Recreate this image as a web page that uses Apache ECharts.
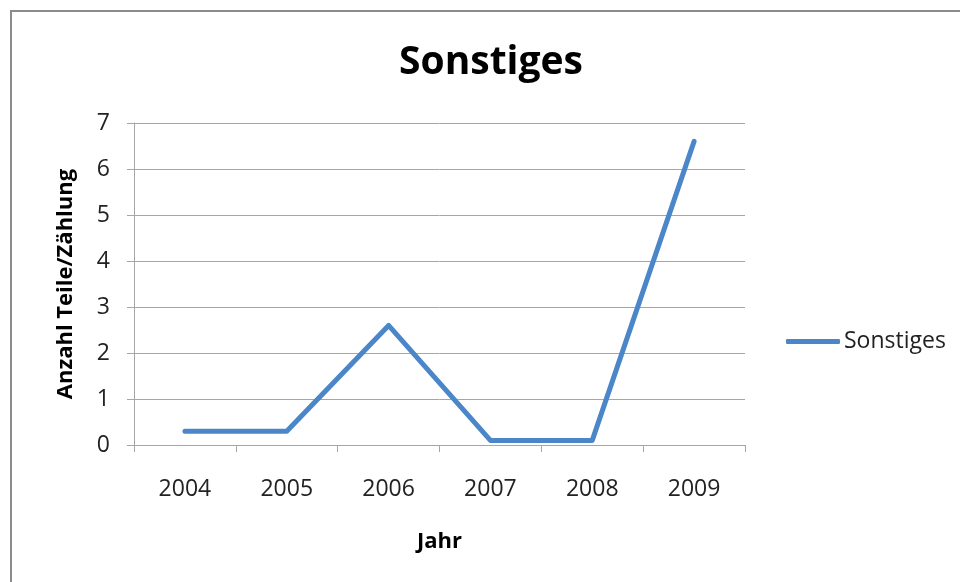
<!DOCTYPE html>
<html>
<head>
<meta charset="utf-8">
<script src="https://cdn.jsdelivr.net/npm/echarts@6/dist/echarts.min.js"></script>
<style>
  html, body { margin: 0; padding: 0; background: #fff; }
  #chart { width: 960px; height: 582px; }
</style>
</head>
<body>
<div id="chart"></div>
<script>
// Jahre und Zählwerte
const years = ['2004', '2005', '2006', '2007', '2008', '2009'];
const sonstiges = [0.3, 0.3, 2.6, 0.1, 0.1, 6.6];
const yTicks = [0, 1, 2, 3, 4, 5, 6, 7];

const font = '"Open Sans", "Noto Sans", sans-serif';
const gridColor = '#a6a6a6';
const frameColor = '#8c8c8c';

const chart = echarts.init(document.getElementById('chart'));
chart.setOption({
  animation: false,
  backgroundColor: '#fff',
  textStyle: { fontFamily: font },
  title: {
    text: 'Sonstiges',
    left: 491,
    top: 43,
    textAlign: 'center',
    padding: 0,
    textStyle: { fontFamily: font, fontSize: 39, fontWeight: 'bold', color: '#000' }
  },
  legend: {
    data: ['Sonstiges'],
    orient: 'vertical',
    left: 786,
    top: 330,
    padding: 0,
    itemWidth: 54,
    itemHeight: 5,
    icon: 'roundRect',
    textStyle: { fontFamily: font, fontSize: 23, color: '#222', padding: [0, 0, 0, -1] }
  },
  grid: { left: 134, top: 123, right: 215, bottom: 137 },
  xAxis: {
    type: 'category',
    data: years,
    boundaryGap: true,
    name: 'Jahr',
    nameLocation: 'middle',
    nameGap: 86,
    nameTextStyle: { fontFamily: font, fontSize: 22, fontWeight: 'bold', color: '#000' },
    axisLine: { lineStyle: { color: gridColor, width: 1 } },
    axisTick: { show: true, length: 7, alignWithLabel: false, lineStyle: { color: gridColor } },
    axisLabel: { margin: 33, fontSize: 23, color: '#222', fontFamily: font }
  },
  yAxis: {
    type: 'value',
    min: yTicks[0],
    max: yTicks[yTicks.length - 1],
    interval: 1,
    name: 'Anzahl Teile/Zählung',
    nameLocation: 'middle',
    nameGap: 57,
    nameTextStyle: { fontFamily: font, fontSize: 22, fontWeight: 'bold', color: '#000' },
    axisLine: { show: true, lineStyle: { color: gridColor, width: 1 } },
    axisTick: { show: true, length: 7, lineStyle: { color: gridColor } },
    axisLabel: { margin: 24, fontSize: 23, color: '#222', fontFamily: font },
    splitLine: { show: true, lineStyle: { color: gridColor, width: 1 } }
  },
  series: [{
    name: 'Sonstiges',
    type: 'line',
    data: sonstiges,
    symbol: 'none',
    lineStyle: { color: '#4A86C8', width: 5, cap: 'round', join: 'round' },
    itemStyle: { color: '#4A86C8' }
  }],
  graphic: [
    {
      type: 'line',
      shape: { x1: 11, y1: 11, x2: 11, y2: 582 },
      style: { stroke: frameColor, lineWidth: 2 },
      silent: true
    },
    {
      type: 'line',
      shape: { x1: 10, y1: 11, x2: 960, y2: 11 },
      style: { stroke: frameColor, lineWidth: 2 },
      silent: true
    }
  ]
});
</script>
</body>
</html>
